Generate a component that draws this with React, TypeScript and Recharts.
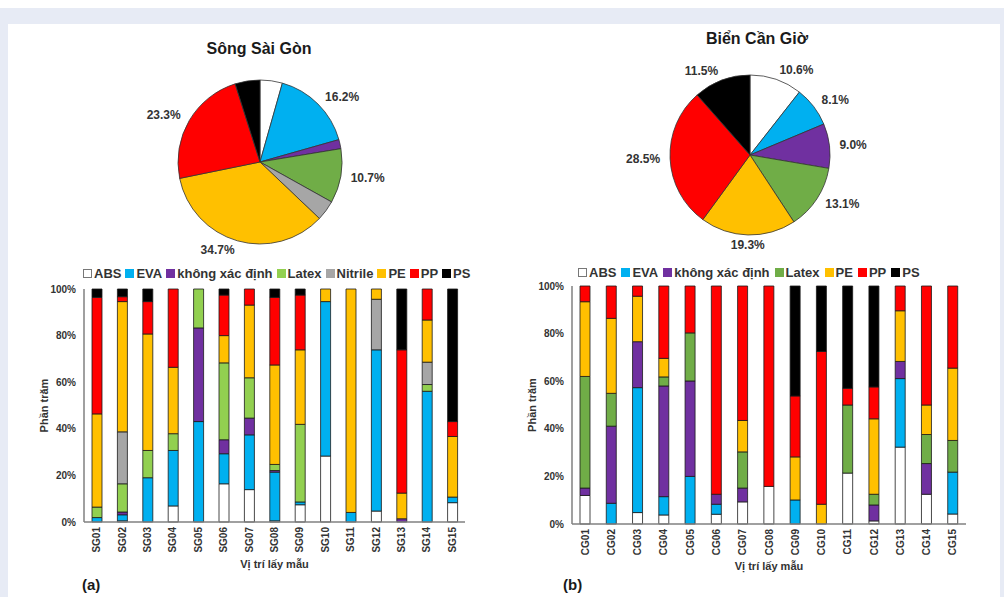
import { BarChart, Bar, XAxis, YAxis, Legend, PieChart, Pie, Cell } from 'recharts'

// polymer types & colours
const sgTypes = ['ABS', 'EVA', 'không xác định', 'Latex', 'Nitrile', 'PE', 'PP', 'PS']
const sgColors = ['#ffffff', '#00b0f0', '#7030a0', '#92d050', '#a6a6a6', '#ffc000', '#ff0000', '#000000']
const cgTypes = ['ABS', 'EVA', 'không xác định', 'Latex', 'PE', 'PP', 'PS']
const cgColors = ['#ffffff', '#00b0f0', '#7030a0', '#70ad47', '#ffc000', '#ff0000', '#000000']
const pieSgColors = ['#ffffff', '#00b0f0', '#7030a0', '#70ad47', '#a6a6a6', '#ffc000', '#ff0000', '#000000']

// pie shares (%)
const sgShare = [4.4, 16.2, 1.8, 10.7, 4.0, 34.7, 23.3, 4.9]
const sgShareShown = [false, true, false, true, false, true, true, false]
const cgShare = [10.6, 8.1, 9.0, 13.1, 19.3, 28.5, 11.5]

// Sông Sài Gòn sampling sites (%)
const sgSites = ['SG01', 'SG02', 'SG03', 'SG04', 'SG05', 'SG06', 'SG07', 'SG08', 'SG09', 'SG10', 'SG11', 'SG12', 'SG13', 'SG14', 'SG15']
const sgAbs = [0, 0.5, 0, 6.9, 0, 16.4, 13.9, 0.5, 7.4, 28.3, 0, 4.7, 0, 0, 8.3]
const sgEva = [1.9, 2.6, 19, 23.8, 43.1, 12.9, 23.5, 20.9, 1.2, 66.3, 4.1, 69.2, 0, 56.1, 2.4]
const sgKxd = [0, 1.2, 0, 0, 40.2, 6.0, 7.2, 0.7, 0, 0, 0, 0, 1.4, 0, 0]
const sgLatex = [4.5, 12.1, 11.7, 7.2, 16.7, 33, 17.3, 2.6, 33.3, 0, 0, 0, 0, 2.9, 0]
const sgNitrile = [0, 22.3, 0, 0, 0, 0, 0, 0, 0, 0, 0, 21.7, 0, 9.6, 0]
const sgPe = [40, 55.9, 50, 28.5, 0, 11.7, 31.2, 42.7, 32, 5.4, 95.9, 4.4, 11, 18.1, 26]
const sgPp = [50, 2.1, 13.9, 33.6, 0, 17.4, 6.9, 29, 23.5, 0, 0, 0, 61.5, 13.3, 6.4]
const sgPs = [3.6, 3.3, 5.4, 0, 0, 2.6, 0, 3.6, 2.6, 0, 0, 0, 26.1, 0, 56.9]

// Biển Cần Giờ sampling sites (%)
const cgSites = ['CG01', 'CG02', 'CG03', 'CG04', 'CG05', 'CG06', 'CG07', 'CG08', 'CG09', 'CG10', 'CG11', 'CG12', 'CG13', 'CG14', 'CG15']
const cgAbs = [12, 0, 4.8, 3.8, 0, 4.1, 9.3, 15.8, 0, 0, 21.4, 1.3, 32.3, 12.5, 4.2]
const cgEva = [0, 8.7, 52.5, 7.7, 20, 4.2, 0, 0, 10.1, 0, 0, 0, 28.8, 0, 17.6]
const cgKxd = [3.1, 32.4, 19.3, 46.5, 40.1, 4.2, 5.8, 0, 0, 0, 0, 6.7, 7.2, 12.9, 0]
const cgLatex = [46.9, 13.8, 0, 3.8, 20.2, 0, 15.2, 0, 0, 0, 28.6, 4.5, 0, 12.2, 13.3]
const cgPe = [31.4, 31.5, 19.1, 7.8, 0, 0, 13.2, 0, 18.1, 8.3, 0, 31.7, 21.3, 12.4, 30.4]
const cgPp = [6.6, 13.6, 4.3, 30.4, 19.7, 87.5, 56.5, 84.2, 25.6, 64.2, 7, 13.4, 10.4, 50, 34.5]
const cgPs = [0, 0, 0, 0, 0, 0, 0, 0, 46.2, 27.5, 43, 42.4, 0, 0, 0]

const sgSeries = [sgAbs, sgEva, sgKxd, sgLatex, sgNitrile, sgPe, sgPp, sgPs]
const cgSeries = [cgAbs, cgEva, cgKxd, cgLatex, cgPe, cgPp, cgPs]

const buildRows = (sites: string[], series: number[][]) =>
  sites.map((site, i) => {
    const row: Record<string, number | string> = { site }
    series.forEach((s, k) => (row['s' + k] = s[i]))
    return row
  })

const sgRows = buildRows(sgSites, sgSeries)
const cgRows = buildRows(cgSites, cgSeries)
const sgPie = sgTypes.map((name, i) => ({ name, value: sgShare[i] }))
const cgPie = cgTypes.map((name, i) => ({ name, value: cgShare[i] }))

const FONT = '"Liberation Sans", Arial, sans-serif'
const TEXT = '#333333'
const BORDER = '#808080'
const RAD = Math.PI / 180

function pieLabel(shown: boolean[] | null) {
  return (p: any) => {
    if (shown && !shown[p.index]) return null
    const r = p.outerRadius + 10
    const cos = Math.cos(-p.midAngle * RAD)
    const sin = Math.sin(-p.midAngle * RAD)
    const anchor = Math.abs(cos) < 0.1 ? 'middle' : cos > 0 ? 'start' : 'end'
    return (
      <text
        x={p.cx + r * cos}
        y={p.cy + r * sin}
        textAnchor={anchor}
        dominantBaseline="central"
        fontFamily={FONT}
        fontWeight="bold"
        fontSize={12}
        fill={TEXT}
      >
        {p.value.toFixed(1)}%
      </text>
    )
  }
}

const SiteTick = (props: any) => {
  const { x, y, payload } = props
  return (
    <text
      x={x}
      y={y}
      transform={`rotate(-90 ${x} ${y})`}
      textAnchor="end"
      dominantBaseline="central"
      fontFamily={FONT}
      fontWeight="bold"
      fontSize={10}
      fill={TEXT}
    >
      {payload.value}
    </text>
  )
}

const YTitle = (props: any) => {
  const { viewBox } = props
  const x = viewBox.x
  const y = viewBox.y + viewBox.height / 2
  return (
    <text
      x={x}
      y={y}
      transform={`rotate(-90 ${x} ${y})`}
      textAnchor="middle"
      dominantBaseline="central"
      fontFamily={FONT}
      fontWeight="bold"
      fontSize={11}
      fill={TEXT}
    >
      Phần trăm
    </text>
  )
}

function makeLegend(names: string[], colors: string[], padLeft: number, padTop: number, gap: number) {
  return () => (
    <div style={{ height: 31, paddingLeft: padLeft, paddingTop: padTop, boxSizing: 'border-box', display: 'flex', alignItems: 'center' }}>
      <div style={{ display: 'flex', alignItems: 'center', height: 24 }}>
        {names.map((n, i) => (
          <div key={n} style={{ display: 'flex', alignItems: 'center', marginRight: gap }}>
            <span
              style={{
                display: 'inline-block',
                width: 7,
                height: 7,
                background: colors[i],
                border: i === 0 ? '1px solid #777' : `1px solid ${colors[i]}`,
                marginRight: 2,
              }}
            />
            <span style={{ fontFamily: FONT, fontWeight: 'bold', fontSize: 13, color: TEXT, whiteSpace: 'nowrap' }}>{n}</span>
          </div>
        ))}
      </div>
    </div>
  )
}

interface StackProps {
  rows: Record<string, number | string>[]
  names: string[]
  colors: string[]
  width: number
  height: number
  marginLeft: number
  legendPad: number
  legendTop: number
  legendGap: number
}

function StackChart({ rows, names, colors, width, height, marginLeft, legendPad, legendTop, legendGap }: StackProps) {
  return (
    <BarChart width={width} height={height} data={rows} barSize={10} margin={{ top: 0, right: 10, bottom: 5, left: marginLeft }}>
      <Legend verticalAlign="top" align="left" height={31} wrapperStyle={{ left: 0, top: 0 }} content={makeLegend(names, colors, legendPad, legendTop, legendGap)} />
      <XAxis
        dataKey="site"
        interval={0}
        height={48}
        tick={<SiteTick />}
        tickLine={false}
        tickSize={5}
        tickMargin={0}
        axisLine={{ stroke: BORDER, strokeWidth: 1.5 }}
        label={{ value: 'Vị trí lấy mẫu', position: 'insideBottom', offset: 2, fontFamily: FONT, fontWeight: 'bold', fontSize: 11, fill: TEXT }}
      />
      <XAxis xAxisId="top" orientation="top" dataKey="site" height={0} tick={false} tickLine={false} axisLine={{ stroke: BORDER, strokeWidth: 1.5 }} />
      <YAxis
        width={40}
        domain={[0, 100]}
        ticks={[0, 20, 40, 60, 80, 100]}
        tickFormatter={(v: number) => v + '%'}
        tickLine={false}
        axisLine={{ stroke: BORDER, strokeWidth: 1.5 }}
        tick={{ fontFamily: FONT, fontWeight: 'bold', fontSize: 10, fill: TEXT }}
        label={<YTitle />}
      />
      <YAxis yAxisId="right" orientation="right" width={0} domain={[0, 100]} tick={false} tickLine={false} axisLine={{ stroke: BORDER, strokeWidth: 1.5 }} />
      {names.map((n, k) => (
        <Bar key={n} dataKey={'s' + k} name={n} stackId="a" fill={colors[k]} stroke="#1a1a1a" strokeWidth={0.8} isAnimationActive={false} />
      ))}
    </BarChart>
  )
}

const titleStyle = {
  position: 'absolute' as const,
  fontFamily: FONT,
  fontWeight: 'bold' as const,
  fontSize: 16,
  color: '#1a1a1a',
  whiteSpace: 'nowrap' as const,
  transform: 'translateX(-50%)',
}

const panelLabel = {
  position: 'absolute' as const,
  fontFamily: FONT,
  fontWeight: 'bold' as const,
  fontSize: 15,
  color: '#1a1a1a',
}

const noMargin = { top: 0, right: 0, bottom: 0, left: 0 }

export default function App() {
  return (
    <div style={{ position: 'absolute', left: 0, top: 0, width: 1004, height: 597, background: '#ffffff', overflow: 'hidden' }}>
      <div style={{ position: 'absolute', left: 0, top: 8, width: 1004, height: 16, background: '#e7ebf5' }} />
      <div style={{ position: 'absolute', left: 0, top: 8, width: 8, height: 589, background: '#e7ebf5' }} />
      <div style={{ position: 'absolute', left: 1000, top: 8, width: 4, height: 589, background: '#e7ebf5' }} />

      <div style={{ ...titleStyle, left: 259, top: 40 }}>Sông Sài Gòn</div>
      <div style={{ ...titleStyle, left: 757, top: 30 }}>Biển Cần Giờ</div>

      <div style={{ position: 'absolute', left: 110, top: 52 }}>
        <PieChart width={300} height={220} margin={noMargin}>
          <Pie
            data={sgPie}
            dataKey="value"
            cx={150}
            cy={110}
            outerRadius={82}
            startAngle={90}
            endAngle={-270}
            stroke="#333"
            strokeWidth={0.8}
            labelLine={false}
            label={pieLabel(sgShareShown)}
            isAnimationActive={false}
          >
            {sgPie.map((d, i) => (
              <Cell key={d.name} fill={pieSgColors[i]} />
            ))}
          </Pie>
        </PieChart>
      </div>

      <div style={{ position: 'absolute', left: 600, top: 45 }}>
        <PieChart width={300} height={220} margin={noMargin}>
          <Pie
            data={cgPie}
            dataKey="value"
            cx={150}
            cy={110}
            outerRadius={80}
            startAngle={90}
            endAngle={-270}
            stroke="#333"
            strokeWidth={0.8}
            labelLine={false}
            label={pieLabel(null)}
            isAnimationActive={false}
          >
            {cgPie.map((d, i) => (
              <Cell key={d.name} fill={cgColors[i]} />
            ))}
          </Pie>
        </PieChart>
      </div>

      <div style={{ position: 'absolute', left: 30, top: 258 }}>
        <StackChart rows={sgRows} names={sgTypes} colors={sgColors} width={445} height={317} marginLeft={14} legendPad={53} legendTop={0} legendGap={4} />
      </div>
      <div style={{ position: 'absolute', left: 520, top: 255 }}>
        <StackChart rows={cgRows} names={cgTypes} colors={cgColors} width={456} height={322} marginLeft={12} legendPad={58} legendTop={3} legendGap={5} />
      </div>

      <div style={{ ...panelLabel, left: 82, top: 576 }}>(a)</div>
      <div style={{ ...panelLabel, left: 563, top: 576 }}>(b)</div>
    </div>
  )
}
